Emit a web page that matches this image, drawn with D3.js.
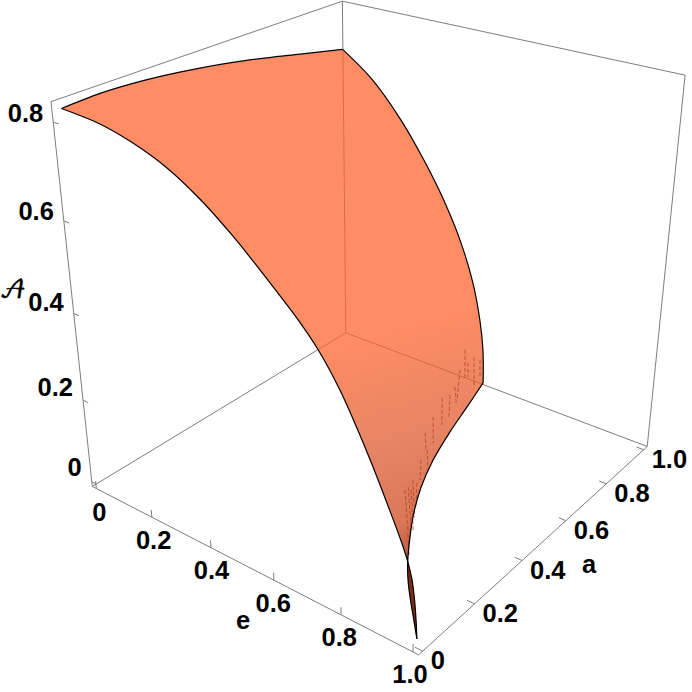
<!DOCTYPE html><html><head><meta charset="utf-8"><script src="https://cdn.jsdelivr.net/npm/d3@7"></script></head><body style="margin:0;background:#fff"><svg id="chart" width="692" height="692" style="display:block"></svg>
<script>
// ---- data: [e, a, A] along each boundary of the surface
const edgeAZero=[[0,0,.826],[.124,0,.819],[.225,0,.802],[.325,0,.775],[.418,0,.736],[.509,0,.686],[.6,0,.627],[.688,0,.566],[.736,0,.526],[.793,0,.463],[.837,0,.401],[.879,0,.336],[.924,0,.26],[.956,0,.203],[.973,0,.167],[.984,0,.134],[.991,0,.094],[.996,0,.05],[.999,0,.009]];
const edgeEZero=[[0,0,.826],[0,.116,.829],[0,.219,.826],[0,.33,.819],[0,.442,.809],[0,.56,.796],[0,.689,.779],[0,.82,.76],[0,1,.734]];
const edgeAOne=[[0,1,.734],[.1,1,.682],[.2,1,.604],[.28,1,.523],[.35,1,.439],[.41,1,.349],[.456,1,.254],[.484,1,.162],[.497,1,.092],[.502,1,.004]];
const edgeFloor=[[.502,1,.004],[.535,.871,0],[.571,.737,0],[.614,.599,0],[.663,.477,0],[.715,.375,0],[.772,.281,0],[.819,.21,0],[.858,.159,0],[.905,.105,0],[.95,.056,0],[.999,0,.009]];
// small mesh-seam streaks on the surface, [e,a] pairs at floor level along the sight line
const streaks=[[.348,1.134,.447,.989],[.399,1.075,.445,1.008],[.393,1.115,.49,.972],[.417,1.111,.472,1.029],[.404,1.027,.492,.884],[.447,.939,.499,.87],[.461,.895,.528,.793],[.453,.868,.534,.752],[.491,.771,.567,.665],[.521,.692,.572,.626],[.574,.628,.63,.554],[.589,.58,.641,.504],[.626,.493,.724,.368],[.635,.461,.731,.342],[.637,.445,.742,.315],[.649,.455,.752,.323],[.642,.489,.702,.403],[.749,.305,.807,.232],[.717,.362,.789,.252]];
const eTicks=[0,.2,.4,.6,.8,1], aTicks=[0,.2,.4,.6,.8,1], zTicks=[0,.2,.4,.6,.8];
const eLabels=["0","0.2","0.4","0.6","0.8","1.0"], aLabels=["0","0.2","0.4","0.6","0.8","1.0"], zLabels=["0","0.2","0.4","0.6","0.8"];
const titles={e:"e",a:"a",z:"𝒜"};
// ---- scales and the camera
const ex=d3.scaleLinear().domain([-0.015,1.015]).range([0,1]);
const ay=d3.scaleLinear().domain([-0.015,1.02]).range([0,1]);
const az=d3.scaleLinear().domain([-0.012,0.84]).range([0,1]);
const P=[261.95075,322.4195,-47.77907,92.30213,67.73651,-87.40319,-397.7868,486.44708,-0.15374,0.19923,-0.12753];
const cube=(X,Y,Z)=>{const w=P[8]*X+P[9]*Y+P[10]*Z+1;return [(P[0]*X+P[1]*Y+P[2]*Z+P[3])/w,(P[4]*X+P[5]*Y+P[6]*Z+P[7])/w];};
const proj=([e,a,z])=>cube(ex(e),ay(a),az(z));
// ---- drawing
const svg=d3.select("#chart");
const FONT="'Liberation Sans',Arial,sans-serif", GREY="#7d7d7d";
const defs=svg.append("defs");
const grad=defs.append("linearGradient").attr("id","skin").attr("gradientUnits","userSpaceOnUse").attr("x1",300).attr("y1",150).attr("x2",425).attr("y2",560);
[[0,"rgb(255,102,48)"],[.45,"rgb(255,102,48)"],[.7,"rgb(225,92,48)"],[.9,"rgb(205,74,30)"],[.97,"rgb(170,45,4)"],[1,"rgb(120,10,0)"]].forEach(([o,c])=>grad.append("stop").attr("offset",o).attr("stop-color",c));
const boxEdges=[[[0,0,0],[1,0,0]],[[1,0,0],[1,1,0]],[[1,1,0],[0,1,0]],[[0,1,0],[0,0,0]],[[0,0,0],[0,0,1]],[[0,1,0],[0,1,1]],[[1,1,0],[1,1,1]],[[0,0,1],[0,1,1]],[[0,1,1],[1,1,1]]];
const seg=(g,p,q,w)=>g.append("line").attr("x1",p[0]).attr("y1",p[1]).attr("x2",q[0]).attr("y2",q[1]).attr("stroke",GREY).attr("stroke-width",w);
const box=svg.append("g").attr("fill","none");
boxEdges.forEach(([p,q])=>seg(box,cube(...p),cube(...q),1));
eTicks.forEach(t=>seg(box,cube(ex(t),0,0),cube(ex(t),0,.021),1));
aTicks.forEach(t=>seg(box,cube(1,ay(t),0),cube(.98,ay(t),0),1));
zTicks.forEach(t=>seg(box,cube(0,0,az(t)),cube(.018,0,az(t)),1));
// surface
const line=d3.line().curve(d3.curveCatmullRom.alpha(.5));
const segs=[edgeEZero,edgeAOne,edgeFloor,edgeAZero.slice().reverse()].map(s=>line(s.map(proj)));
const outline=segs.map((s,i)=>i?s.replace(/^M/,"L"):s).join("")+"Z";
svg.append("path").attr("d",outline).attr("fill","url(#skin)").attr("fill-opacity",.75);
const sg=svg.append("g").attr("stroke","rgb(175,65,30)").attr("stroke-width",.9).attr("stroke-dasharray","4 2").attr("opacity",.8);
streaks.forEach(s=>{const p=proj([s[0],s[1],0]),q=proj([s[2],s[3],0]);sg.append("line").attr("x1",p[0]).attr("y1",p[1]).attr("x2",q[0]).attr("y2",q[1]);});
// dark sliver below the fold
const sliver=edgeAZero.slice(14).concat(edgeFloor.slice(7).reverse());
svg.append("path").attr("d",line(sliver.map(proj))+"Z").attr("fill","rgb(125,45,18)");
const eg=svg.append("g").attr("fill","none").attr("stroke","#000").attr("stroke-width",1.2).attr("stroke-linejoin","round");
segs.forEach(d=>eg.append("path").attr("d",d));
// labels
const lab=(x,y,t,anchor,size,fam)=>svg.append("text").attr("x",x).attr("y",y).attr("dy",".36em").attr("text-anchor",anchor||"middle").attr("font-family",fam||FONT).attr("font-weight","bold").attr("font-size",size||25.5).attr("fill","#000").text(t);
eTicks.forEach((t,i)=>{const p=cube(ex(t),0,0);lab(p[0]+3-6*t,p[1]+23-t,eLabels[i]);});
aTicks.forEach((t,i)=>{const p=cube(1,ay(t),0);lab(p[0]+8,p[1]+9,aLabels[i],"start");});
zTicks.forEach((t,i)=>{const p=cube(0,0,az(t));lab(p[0]-10,p[1]-14.5+7*t,zLabels[i],"end");});
lab(243,620,titles.e);lab(589,564,titles.a);
lab(13,289,titles.z,"middle",25,"'DejaVu Math TeX Gyre','DejaVu Serif',serif").attr("font-weight","normal").attr("stroke","#000").attr("stroke-width",.5);
</script></body></html>
